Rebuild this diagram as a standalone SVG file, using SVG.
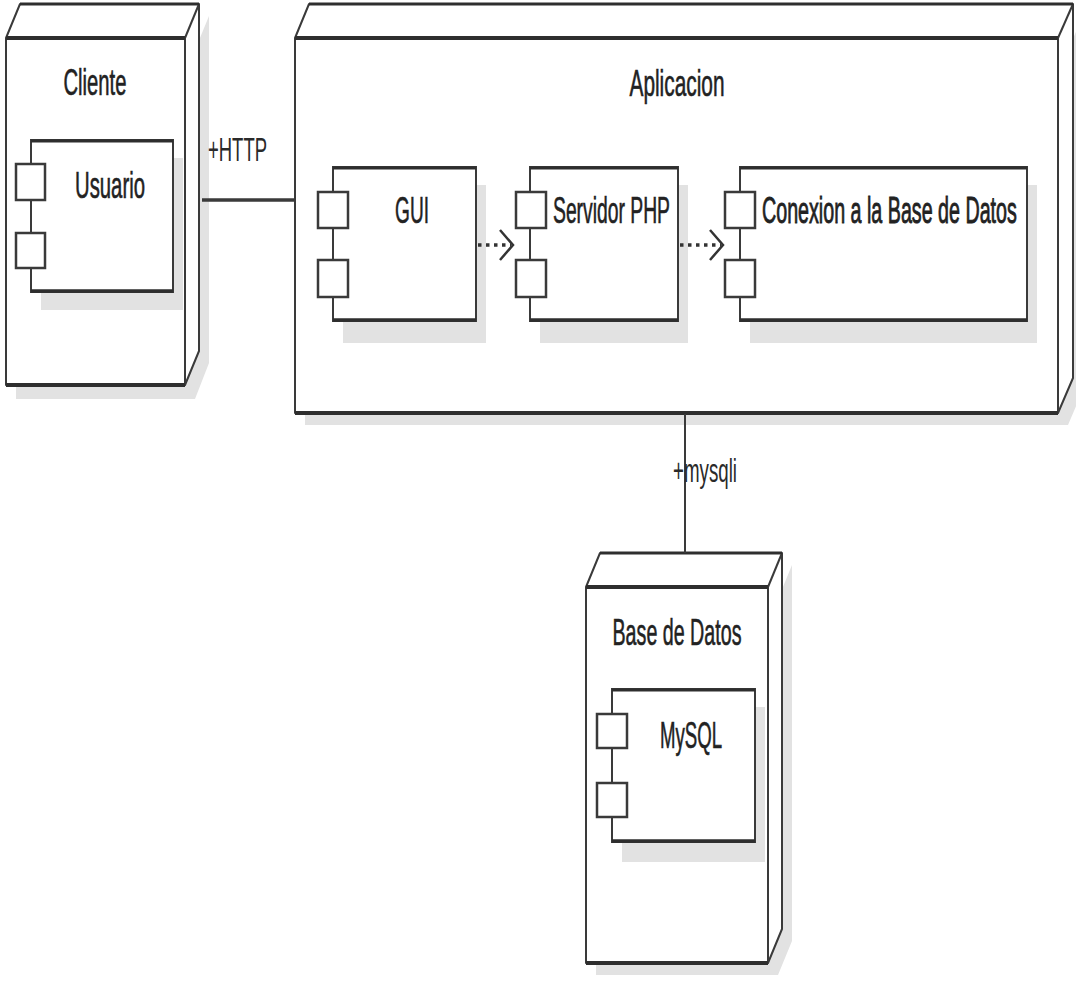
<svg xmlns="http://www.w3.org/2000/svg" width="1076" height="982" viewBox="0 0 1076 982">
<style>
  .shadow { fill: #e2e2e2; stroke: none; }
  .face { fill: #ffffff; stroke: #3a3a3a; stroke-width: 2; stroke-linejoin: round; }
  .edge { stroke: #2e2e2e; stroke-width: 4; fill: none; }
  .thin { stroke: #3a3a3a; stroke-width: 2; fill: none; }
  .comp { fill: #ffffff; stroke: #3a3a3a; stroke-width: 2; }
  .port { fill: #ffffff; stroke: #3a3a3a; stroke-width: 2.5; }
  .lbl { font-family: "Liberation Sans", Arial, sans-serif; font-size: 37px; fill: #222222; stroke: #222222; stroke-width: 0.6; }
  .clbl { font-family: "Liberation Sans", Arial, sans-serif; font-size: 33px; fill: #2a2a2a; }
  .conn { stroke: #3a3a3a; fill: none; }
  .dep { stroke: #333333; stroke-width: 3.5; stroke-dasharray: 3.5 4.5; fill: none; }
  .head { stroke: #333333; stroke-width: 2.5; fill: none; stroke-linejoin: miter; }
</style>
<rect width="1076" height="982" fill="#ffffff"/>

<!-- Cliente node -->
<g id="node-cliente">
  <polygon class="shadow" points="16,50 195,50 209,16 209,363 195,399 16,399"/>
  <polygon class="face" points="6,38 20,4 199,4 199,351 185,385 6,385"/>
  <line class="thin" x1="185" y1="38" x2="199" y2="4"/>
  <line class="thin" x1="185" y1="38" x2="185" y2="385"/>
  <line class="edge" x1="6" y1="38" x2="185" y2="38"/>
  <line class="edge" x1="6" y1="385" x2="185" y2="385"/>
  <line class="edge" x1="20" y1="4" x2="199" y2="4" style="stroke-width:3"/>
  <text class="lbl" x="95" y="95" text-anchor="middle" textLength="63" lengthAdjust="spacingAndGlyphs">Cliente</text>
  <g id="comp-usuario">
    <rect class="shadow" x="41" y="158" width="142" height="152"/>
    <rect class="comp" x="31" y="140" width="142" height="152"/>
    <line class="edge" x1="31" y1="141" x2="173" y2="141" style="stroke-width:3"/>
    <line class="edge" x1="31" y1="291" x2="173" y2="291" style="stroke-width:3.5"/>
    <rect class="port" x="16" y="164" width="29" height="36"/>
    <rect class="port" x="16" y="233" width="29" height="35"/>
    <text class="lbl" x="110" y="198" text-anchor="middle" textLength="70" lengthAdjust="spacingAndGlyphs">Usuario</text>
  </g>
</g>

<!-- Aplicacion node -->
<g id="node-aplicacion">
  <polygon class="shadow" points="305,50 1068,50 1083,16 1083,390 1068,425 305,425"/>
  <polygon class="face" points="295,38 309,4 1073,4 1073,378 1058,413 295,413"/>
  <line class="thin" x1="1058" y1="38" x2="1073" y2="4"/>
  <line class="thin" x1="1058" y1="38" x2="1058" y2="413"/>
  <line class="edge" x1="295" y1="38" x2="1058" y2="38"/>
  <line class="edge" x1="295" y1="413" x2="1058" y2="413"/>
  <line class="edge" x1="309" y1="4" x2="1073" y2="4" style="stroke-width:3"/>
  <text class="lbl" x="677" y="96" text-anchor="middle" textLength="95" lengthAdjust="spacingAndGlyphs">Aplicacion</text>

  <g id="comp-gui">
    <rect class="shadow" x="343" y="185" width="143" height="158"/>
    <rect class="comp" x="333" y="167" width="143" height="154"/>
    <line class="edge" x1="333" y1="168" x2="476" y2="168" style="stroke-width:3"/>
    <line class="edge" x1="333" y1="320" x2="476" y2="320" style="stroke-width:3.5"/>
    <rect class="port" x="318" y="192" width="30" height="36"/>
    <rect class="port" x="318" y="260" width="30" height="37"/>
    <text class="lbl" x="412" y="223" text-anchor="middle" textLength="34" lengthAdjust="spacingAndGlyphs">GUI</text>
  </g>

  <g id="comp-servidor">
    <rect class="shadow" x="540" y="185" width="148" height="158"/>
    <rect class="comp" x="530" y="167" width="148" height="154"/>
    <line class="edge" x1="530" y1="168" x2="678" y2="168" style="stroke-width:3"/>
    <line class="edge" x1="530" y1="320" x2="678" y2="320" style="stroke-width:3.5"/>
    <rect class="port" x="516" y="192" width="30" height="36"/>
    <rect class="port" x="516" y="260" width="30" height="37"/>
    <text class="lbl" x="553" y="223" textLength="117" lengthAdjust="spacingAndGlyphs">Servidor PHP</text>
  </g>

  <g id="comp-conexion">
    <rect class="shadow" x="750" y="185" width="287" height="158"/>
    <rect class="comp" x="740" y="167" width="287" height="154"/>
    <line class="edge" x1="740" y1="168" x2="1027" y2="168" style="stroke-width:3"/>
    <line class="edge" x1="740" y1="320" x2="1027" y2="320" style="stroke-width:3.5"/>
    <rect class="port" x="725" y="192" width="30" height="36"/>
    <rect class="port" x="725" y="260" width="30" height="37"/>
    <text class="lbl" x="0" y="0" transform="translate(762 223) scale(0.532 1)" textLength="479" lengthAdjust="spacingAndGlyphs" style="stroke-width:0.9">Conexion a la Base de Datos</text>
  </g>
</g>

<!-- Base de Datos node -->
<g id="node-basedatos">
  <polygon class="shadow" points="596,599 778,599 792,565 792,941 778,975 596,975"/>
  <polygon class="face" points="586,587 600,553 782,553 782,929 768,963 586,963"/>
  <line class="thin" x1="768" y1="587" x2="782" y2="553"/>
  <line class="thin" x1="768" y1="587" x2="768" y2="963"/>
  <line class="edge" x1="586" y1="587" x2="768" y2="587"/>
  <line class="edge" x1="586" y1="963" x2="768" y2="963"/>
  <line class="edge" x1="600" y1="553" x2="782" y2="553" style="stroke-width:3"/>
  <text class="lbl" x="677" y="645" text-anchor="middle" textLength="129" lengthAdjust="spacingAndGlyphs">Base de Datos</text>
  <g id="comp-mysql">
    <rect class="shadow" x="622" y="707" width="143" height="155"/>
    <rect class="comp" x="612" y="689" width="143" height="153"/>
    <line class="edge" x1="612" y1="690" x2="755" y2="690" style="stroke-width:3"/>
    <line class="edge" x1="612" y1="841" x2="755" y2="841" style="stroke-width:3.5"/>
    <rect class="port" x="597" y="714" width="30" height="34"/>
    <rect class="port" x="597" y="783" width="30" height="34"/>
    <text class="lbl" x="691" y="748" text-anchor="middle" textLength="62" lengthAdjust="spacingAndGlyphs">MySQL</text>
  </g>
</g>

<!-- Connectors -->
<g id="connectors">
  <line class="conn" x1="202" y1="200" x2="295" y2="200" style="stroke-width:3.5"/>
  <text class="clbl" x="208" y="161" textLength="59" lengthAdjust="spacingAndGlyphs">+HTTP</text>
  <line class="conn" x1="685" y1="414" x2="685" y2="553" style="stroke-width:2"/>
  <text class="clbl" x="673" y="482" textLength="64" lengthAdjust="spacingAndGlyphs">+mysqli</text>
  <line class="dep" x1="478" y1="245" x2="511" y2="245"/>
  <polyline class="head" points="500,230 513,245 500,260"/>
  <line class="dep" x1="680" y1="245" x2="721" y2="245"/>
  <polyline class="head" points="710,230 723,245 710,260"/>
</g>
</svg>
